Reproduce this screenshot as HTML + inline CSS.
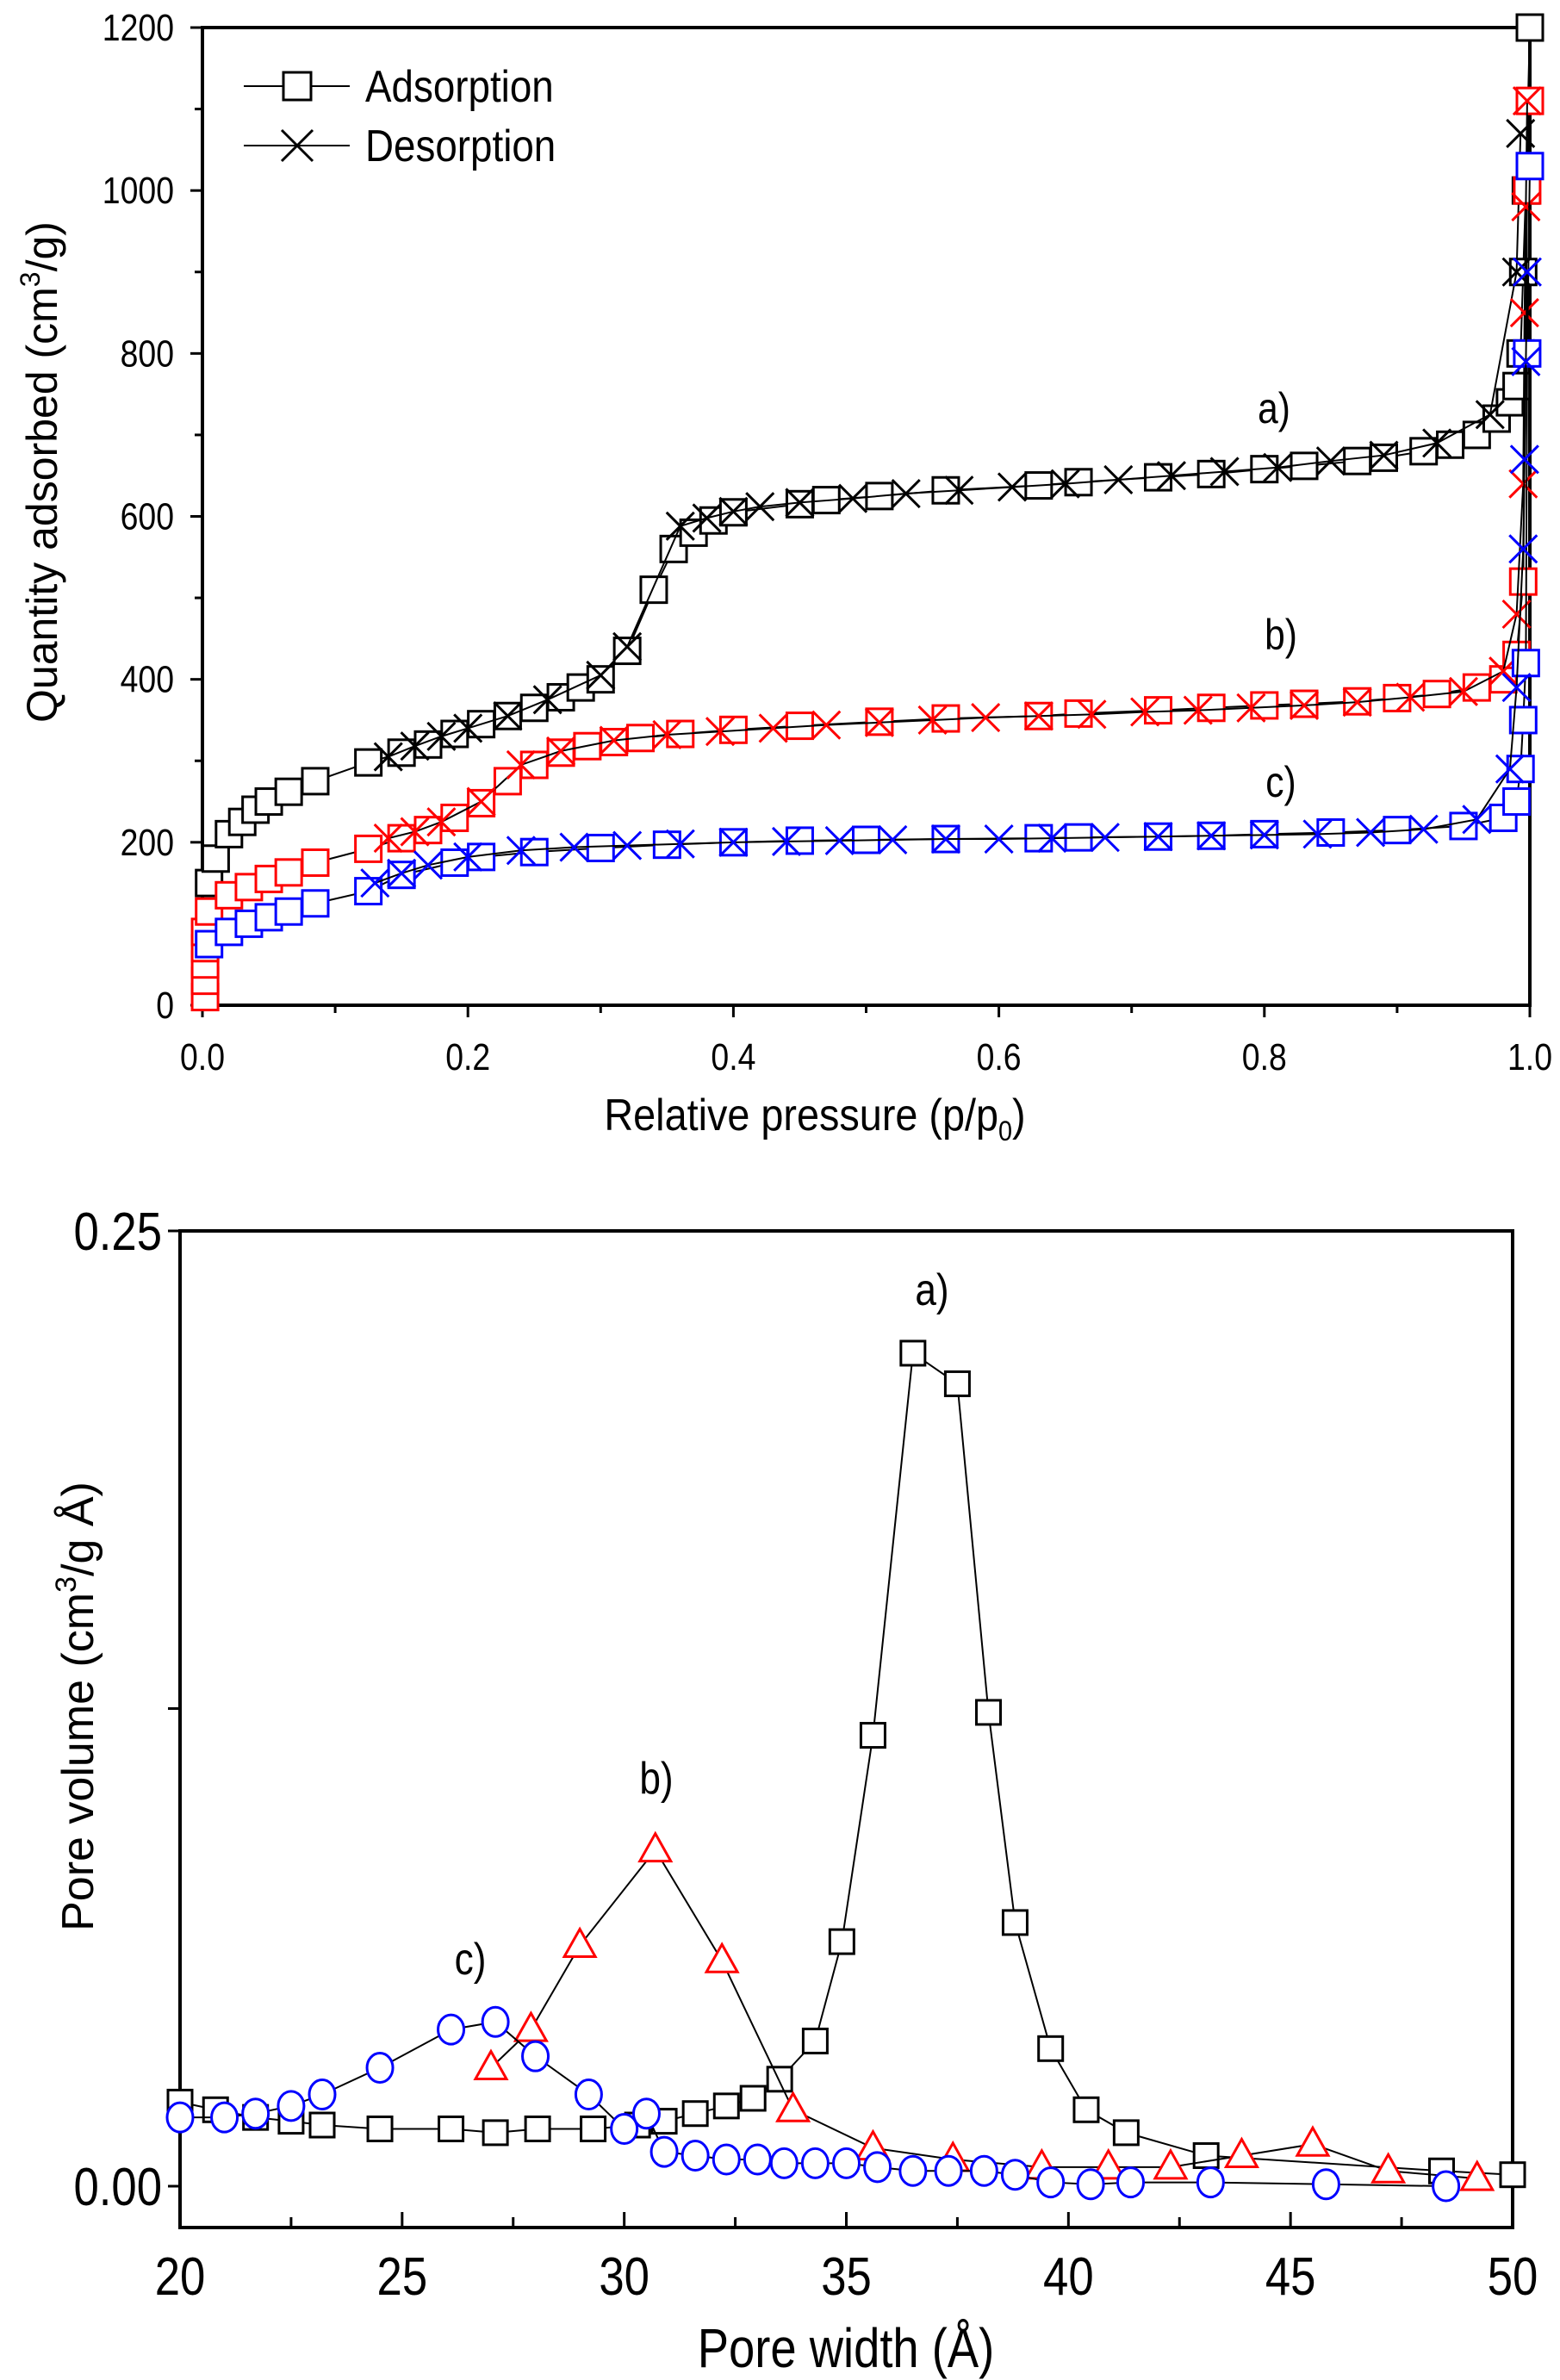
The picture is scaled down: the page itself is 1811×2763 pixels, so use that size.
<!DOCTYPE html>
<html><head><meta charset="utf-8"><style>
html,body{margin:0;padding:0;background:#fff}
svg{display:block}
text{font-family:"Liberation Sans",sans-serif}
</style></head><body>
<svg id="svg" width="1811" height="2763" viewBox="0 0 1811 2763" xmlns="http://www.w3.org/2000/svg">
<g id="top"></g>
<g id="bot"></g>
</svg>
<script>
// ---- Top chart data (isotherms) ----
const aAdsP=[0.005,0.01,0.02,0.03,0.04,0.05,0.065,0.085,0.125,0.15,0.17,0.19,0.21,0.23,0.25,0.27,0.285,0.30,0.32,0.34,0.355,0.37,0.385,0.40,0.45,0.47,0.51,0.56,0.63,0.66,0.72,0.76,0.80,0.83,0.87,0.89,0.92,0.94,0.96,0.975,0.985,0.99,0.993,0.995,0.997,1.0];
const aAdsV=[150,180,210,225,240,250,262,275,298,310,320,333,345,355,365,378,390,400,435,510,560,580,595,605,615,620,625,632,638,642,648,652,658,662,668,672,680,688,700,720,740,760,800,900,1000,1200];
const aDesP=[0.993,0.99,0.97,0.93,0.89,0.85,0.81,0.77,0.73,0.69,0.65,0.61,0.57,0.53,0.49,0.45,0.42,0.40,0.38,0.36,0.32,0.30,0.26,0.23,0.20,0.18,0.16,0.14];
const aDesV=[1070,900,725,690,675,668,660,655,650,645,640,636,632,628,622,617,612,606,598,588,440,405,375,355,340,330,318,305];
const bAdsP=[0.002,0.002,0.002,0.002,0.002,0.005,0.02,0.035,0.05,0.065,0.085,0.125,0.15,0.17,0.19,0.21,0.23,0.25,0.27,0.29,0.31,0.33,0.36,0.40,0.45,0.51,0.56,0.63,0.66,0.72,0.76,0.80,0.83,0.87,0.90,0.93,0.96,0.98,0.99,0.995,0.998,1.0];
const bAdsV=[10,30,50,70,90,115,135,145,155,163,175,192,205,215,230,248,275,295,310,318,323,328,333,338,343,348,352,355,358,362,365,368,370,373,377,382,390,400,430,520,1000,1110];
const bDesP=[0.998,0.997,0.996,0.995,0.99,0.98,0.95,0.91,0.87,0.83,0.79,0.75,0.71,0.67,0.63,0.59,0.55,0.51,0.47,0.43,0.39,0.35,0.31,0.27,0.24,0.21,0.18,0.16,0.14];
const bDesV=[1110,980,850,640,480,410,385,378,372,368,365,362,360,357,355,353,350,347,344,340,336,332,325,312,295,250,225,213,205];
const cAdsP=[0.005,0.02,0.035,0.05,0.065,0.085,0.125,0.15,0.19,0.21,0.25,0.30,0.35,0.40,0.45,0.50,0.56,0.63,0.66,0.72,0.76,0.80,0.85,0.90,0.95,0.98,0.99,0.993,0.995,0.997,0.998,1.0];
const cAdsV=[75,90,100,108,115,125,140,160,175,182,188,193,197,200,202,203,204,205,206,207,208,210,212,215,220,230,250,290,350,420,800,1030];
const cDesP=[0.998,0.997,0.996,0.995,0.99,0.985,0.96,0.92,0.88,0.84,0.80,0.76,0.72,0.68,0.64,0.60,0.56,0.52,0.48,0.44,0.40,0.36,0.32,0.28,0.24,0.20,0.17,0.15,0.13];
const cDesV=[900,790,670,560,390,290,228,216,212,210,209,208,207,206,205,204,204,203,202,201,200,198,196,194,190,182,172,162,150];
const topXTicks=["0.0","0.2","0.4","0.6","0.8","1.0"];
const topYTicks=["0","200","400","600","800","1000","1200"];
// ---- Bottom chart data (pore size distribution) ----
const psdAW=[20,20.8,21.7,22.5,23.2,24.5,26.1,27.1,28.05,29.3,30.3,30.9,31.6,32.3,32.9,33.5,34.3,34.9,35.6,36.5,37.5,38.2,38.8,39.6,40.4,41.3,43.1,48.4,50];
const psdAV=[0.022,0.020,0.018,0.017,0.016,0.015,0.015,0.014,0.015,0.015,0.016,0.017,0.019,0.021,0.023,0.028,0.038,0.064,0.118,0.218,0.210,0.124,0.069,0.036,0.020,0.014,0.008,0.004,0.003];
const psdBW=[27.0,27.9,29.0,30.7,32.2,33.8,35.6,37.4,39.4,40.9,42.3,43.9,45.5,47.2,49.2];
const psdBV=[0.031,0.041,0.063,0.088,0.059,0.020,0.010,0.007,0.005,0.005,0.005,0.008,0.011,0.004,0.002];
const psdCW=[20,21,21.7,22.5,23.2,24.5,26.1,27.1,28.0,29.2,30.0,30.5,30.9,31.6,32.3,33.0,33.6,34.3,35.0,35.7,36.5,37.3,38.1,38.8,39.6,40.5,41.4,43.2,45.8,48.5];
const psdCV=[0.018,0.018,0.019,0.021,0.024,0.031,0.041,0.043,0.034,0.024,0.015,0.019,0.009,0.008,0.007,0.007,0.006,0.006,0.006,0.005,0.004,0.004,0.004,0.003,0.001,0.0005,0.001,0.001,0.0005,0];
const botXTicks=["20","25","30","35","40","45","50"];
const botYTicks=["0.00","0.25"];

const NS="http://www.w3.org/2000/svg";
function mk(parent,tag,attrs,txt){const e=document.createElementNS(NS,tag);for(const k in attrs)e.setAttribute(k,attrs[k]);if(txt!==undefined)e.textContent=txt;parent.appendChild(e);return e;}
// condensed text (narrow font look)
function nt(parent,x,y,size,anchor,str,sx){return mk(parent,'text',{x:0,y:0,transform:`translate(${x},${y}) scale(${sx},1)`,'font-size':size,'text-anchor':anchor},str);}

// ================= TOP CHART =================
const T=document.getElementById('top');
const tx=v=>235+v*(1776-235);
const ty=v=>1167-v*(1167-32)/1200;
let fr=mk(T,'rect',{x:235,y:32,width:1541,height:1135,fill:'none',stroke:'#000','stroke-width':4});


for(let i=0;i<=10;i++){const x=tx(i/10);const l=mk(T,'line',{x1:x,x2:x,y1:1167,y2:1167+(i%2?9:14),stroke:'#000','stroke-width':3});

}
topXTicks.forEach((s,i)=>{const t=nt(T,tx(i*0.2),1242,44,'middle',s,0.85);

});
for(let i=0;i<=12;i++){const y=ty(i*100);const l=mk(T,'line',{x1:235,x2:235-(i%2?9:14),y1:y,y2:y,stroke:'#000','stroke-width':3});

}
topYTicks.forEach((s,i)=>{const t=nt(T,202,ty(i*200)+15,44,'end',s,0.85);

});
let xt=mk(T,'text',{x:0,y:0,transform:'translate(946,1312) scale(0.9,1)','font-size':52,'text-anchor':'middle'});


xt.innerHTML='Relative pressure (p/p<tspan font-size="32" dy="12">0</tspan><tspan dy="-12">)</tspan>';
let yt=mk(T,'text',{transform:'translate(66,548) rotate(-90)','font-size':50,'text-anchor':'middle'});


yt.innerHTML='Quantity adsorbed (cm<tspan font-size="32" dy="-20">3</tspan><tspan dy="20">/g)</tspan>';

function sq(g,x,y,s,col){return mk(g,'rect',{x:x-s/2,y:y-s/2,width:s,height:s,fill:'#fff',stroke:col,'stroke-width':3});}
function cross(g,x,y,s,col){return mk(g,'path',{d:`M${x-s/2},${y-s/2}L${x+s/2},${y+s/2}M${x-s/2},${y+s/2}L${x+s/2},${y-s/2}`,stroke:col,'stroke-width':3,fill:'none'});}
function series(g,P,V,col,kind,name,fx,fy){
  const sg=mk(g,'g',{});
  
  
  mk(sg,'polyline',{points:P.map((p,i)=>fx(p)+','+fy(V[i])).join(' '),fill:'none',stroke:'#000','stroke-width':2});
  P.forEach((p,i)=>{let m;
    if(kind==='sq')m=sq(sg,fx(p),fy(V[i]),30,col);
    else m=cross(sg,fx(p),fy(V[i]),32,col);
    
    });
}
series(T,aAdsP,aAdsV,'#000','sq','series-a-adsorption',tx,ty);
series(T,aDesP,aDesV,'#000','x','series-a-desorption',tx,ty);
series(T,bAdsP,bAdsV,'#f00','sq','series-b-adsorption',tx,ty);
series(T,bDesP,bDesV,'#f00','x','series-b-desorption',tx,ty);
series(T,cAdsP,cAdsV,'#00f','sq','series-c-adsorption',tx,ty);
series(T,cDesP,cDesV,'#00f','x','series-c-desorption',tx,ty);
[['a)',1479,491],['b)',1487,754],['c)',1487,925]].forEach(d=>{const t=nt(T,d[1],d[2],50,'middle',d[0],0.85);

});
// legend
const L=mk(T,'g',{});


[['Adsorption',100,'sq'],['Desorption',169,'x']].forEach(d=>{
  const e=mk(L,'g',{});
  
  
  mk(e,'line',{x1:283,x2:406,y1:d[1],y2:d[1],stroke:'#000','stroke-width':2});
  if(d[2]==='sq')sq(e,345,d[1],32,'#000');else cross(e,345,d[1],36,'#000');
  nt(e,424,d[1]+18,52,'start',d[0],0.88);
});

// ================= BOTTOM CHART =================
const B=document.getElementById('bot');
const bx=v=>209+(v-20)*(1756-209)/30;
const by=v=>2538-v*(2538-1429)/0.25;
let fr2=mk(B,'rect',{x:209,y:1429,width:1547,height:1157,fill:'none',stroke:'#000','stroke-width':4});


for(let i=0;i<=12;i++){const x=bx(20+i*2.5);const l=mk(B,'line',{x1:x,x2:x,y1:2586,y2:2586-(i%2?12:18),stroke:'#000','stroke-width':3});

}
botXTicks.forEach((s,i)=>{const t=nt(B,bx(20+i*5),2664,62,'middle',s,0.85);

});
[0,0.125,0.25].forEach(v=>{const l=mk(B,'line',{x1:209,x2:209-14,y1:by(v),y2:by(v),stroke:'#000','stroke-width':3});

});
botYTicks.forEach((s,i)=>{const t=nt(B,188,by(i*0.25)+22,62,'end',s,0.85);

});
let xt2=nt(B,982,2748,64,'middle','Pore width (Å)',0.85);


let yt2=mk(B,'text',{transform:'translate(108,1981) rotate(-90)','font-size':52,'text-anchor':'middle'});


yt2.innerHTML='Pore volume (cm<tspan font-size="34" dy="-20">3</tspan><tspan dy="20">/g Å)</tspan>';

function psd(W,V,col,kind,name){
  const sg=mk(B,'g',{});
  
  
  mk(sg,'polyline',{points:W.map((w,i)=>bx(w)+','+by(V[i])).join(' '),fill:'none',stroke:'#000','stroke-width':2});
  W.forEach((w,i)=>{const x=bx(w),y=by(V[i]);let m;
    if(kind==='sq')m=sq(sg,x,y,28,col);
    else if(kind==='tri')m=mk(sg,'path',{d:`M${x},${y-19}L${x+18},${y+13}L${x-18},${y+13}Z`,fill:'#fff',stroke:col,'stroke-width':3});
    else m=mk(sg,'ellipse',{cx:x,cy:y,rx:15,ry:17,fill:'#fff',stroke:col,'stroke-width':3});
    
    });
}
psd(psdAW,psdAV,'#000','sq','series-a-psd');
psd(psdBW,psdBV,'#f00','tri','series-b-psd');
psd(psdCW,psdCV,'#00f','circ','series-c-psd');
[['a)',1082,1515],['b)',762,2082],['c)',546,2292]].forEach(d=>{const t=nt(B,d[1],d[2],52,'middle',d[0],0.85);

});
</script>
</body></html>
